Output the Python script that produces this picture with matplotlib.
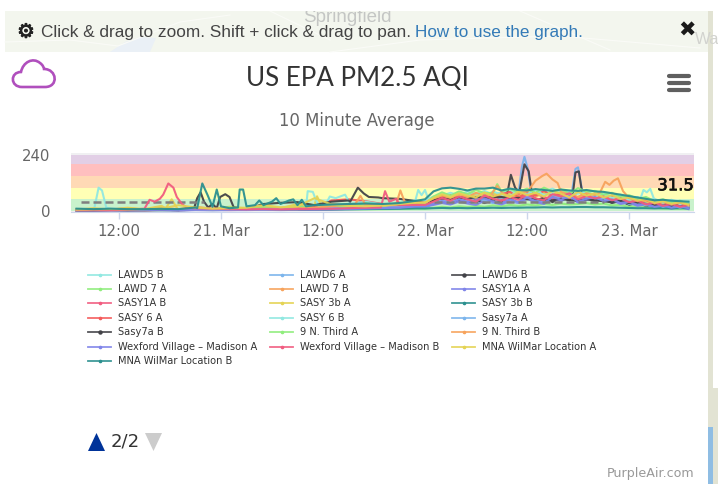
import numpy as np
import matplotlib
matplotlib.use("Agg")
import matplotlib.pyplot as plt
import matplotlib.patheffects as pe
from matplotlib.patches import Polygon, PathPatch, Rectangle
from matplotlib.path import Path

# ---------- data ----------
# hours after 20 Mar 12:00: two-hourly, then hourly
GRID_HOURS = list(range(-5, 36, 2)) + list(range(36, 68))

LAWD5_B  = [6,8,9,7,6,5,6,7,8,7, 6,8,9,8,12,14,15,22,25,28, 36,
            46,62,66,78,68,84,72,86,70,80, 88,74,92,76,84,96,78,86,74,82, 68,76,62,70,52,60,44,52,38,48, 34,40]
LAWD6_A  = [4,7,5,9,4,8,4,14,5,12, 7,16,7,20,8,18,10,26,13,22, 22,
            24,36,44,34,50,42,38,52,44,36, 58,46,64,52,42,60,72,50,66,48, 58,44,52,36,44,28,36,22,30,20, 26,18]
LAWD6_B  = [3,3,4,4,3,4,3,5,5,5, 6,5,6,7,7,8,9,11,12,14, 20,
            20,30,38,30,44,36,48,34,50,40, 30,52,62,44,58,38,60,46,30,54, 42,50,34,44,26,34,20,28,16,22, 14,18]
LAWD7_A  = [3,3,4,3,3,3,4,5,4,5, 5,6,5,6,6,7,7,8,8,9, 11,
            10,14,18,15,20,17,22,18,24,20, 26,22,28,24,30,26,32,28,30,34, 28,32,24,26,18,20,14,16,10,12, 9,11]
LAWD7_B  = [5,9,6,12,6,14,8,18,10,14, 8,20,10,24,12,30,24,38,20,30, 32,
            34,52,66,54,70,60,74,58,76,64, 56,72,82,62,76,68,88,70,60,78, 62,74,54,66,46,56,38,48,32,42, 28,36]
SASY1A_A = [2,2,3,2,3,3,2,4,3,4, 4,5,4,5,5,6,7,9,10,11, 17,
            18,26,34,28,40,32,26,44,36,28, 42,34,52,38,30,54,42,60,36,48, 56,40,46,30,36,22,28,14,20,10, 16,8]
SASY1A_B = [3,3,3,4,3,5,4,5,5,4, 5,6,5,6,7,8,9,12,14,16, 24,
            26,38,52,40,58,44,62,48,66,50, 44,68,56,74,60,50,72,58,46,70, 54,62,44,54,36,44,26,34,20,28, 16,24]
SASY3B_A = [6,12,6,14,8,22,8,16,9,18, 12,24,12,30,18,26,18,30,22,34, 30,
            32,48,64,50,68,56,72,62,78,58, 74,60,84,66,78,62,80,70,56,76, 60,70,52,62,44,52,36,44,28,38, 24,32]
SASY3B_B = [8,7,6,6,5,6,5,6,7,6, 6,7,6,6,7,7,8,8,9,10, 11,
            11,12,13,12,13,12,13,13,14,13, 14,14,15,15,16,15,16,16,17,17, 16,16,15,14,13,12,12,11,12,11, 12,12]
SASY6_A  = [4,5,5,4,5,6,5,7,7,6, 8,9,10,12,18,45,50,42,30,26, 32,
            30,46,58,68,54,70,50,76,60,72, 82,58,78,66,86,64,74,56,80,68, 74,54,66,48,56,40,48,30,38,26, 32,22]
SASY6_B  = [5,6,6,5,6,6,5,7,6,7, 6,7,8,8,14,62,64,40,28,30, 40,
            44,58,76,62,82,68,76,60,84,70, 64,86,72,90,68,80,88,66,76,84, 62,74,56,64,48,54,42,50,36,44, 30,38]
SASY7A_A = [4,5,5,4,4,5,4,6,5,6, 7,6,8,8,9,10,11,13,14,16, 23,
            22,34,46,36,54,40,60,46,34,58, 48,36,66,50,40,70,54,62,44,58, 46,54,38,48,30,38,24,32,18,26, 14,22]
SASY7A_B = [3,3,4,3,4,5,4,6,30,10, 8,30,35,38,25,40,45,60,55,52, 42,
            34,46,54,50,58,52,60,56,58,60, 54,56,50,52,48,46,52,46,44,50, 46,42,38,44,34,38,30,26,24,28, 20,26]
N9_A     = [4,8,5,6,6,10,6,12,6,16, 8,18,8,22,12,24,16,34,20,36, 28,
            30,62,80,66,84,72,90,76,88,70, 94,80,96,78,100,84,92,74,98,82, 86,70,78,60,68,52,60,42,50,36, 44,30]
N9_B     = [5,5,6,5,6,8,7,8,7,8, 9,10,10,12,14,20,30,26,24,28, 36,
            36,54,68,56,74,60,78,66,58,80, 62,76,84,64,78,58,82,70,60,76, 68,60,64,48,56,42,48,32,42,28, 36,24]
WEX_A    = [3,3,3,3,4,5,4,5,5,5, 5,6,6,7,7,8,9,10,12,14, 20,
            20,30,42,32,50,38,46,54,40,32, 50,38,58,42,34,60,48,64,40,52, 60,42,50,34,40,26,32,18,24,14, 20,12]
WEX_B    = [4,4,4,5,6,30,18,12,10,8, 7,8,7,8,9,10,12,14,40,30, 26,
            26,40,56,44,62,50,40,66,52,44, 60,48,70,54,46,72,62,76,50,64, 54,62,46,54,38,44,28,36,22,30, 18,26]
MNA_A    = [6,7,8,7,8,10,25,15,10,12, 14,25,16,20,55,28,22,20,24,30, 36,
            36,56,72,60,76,66,58,80,62,74, 60,84,68,78,62,86,74,58,82,66, 76,58,68,52,58,44,52,34,42,30, 38,26]
MNA_B    = [10,8,10,8,8,9,8,15,20,12, 18,30,28,35,25,28,30,32,30,34, 44,
            50,84,97,100,95,88,96,96,100,88, 96,90,88,94,90,86,92,88,86,90, 84,82,76,70,64,58,52,46,48,44, 42,40]

# short excursions: series -> list of (hours, values)
PEAKS = {
    "LAWD5 B": [([-2.9,-2.4,-2.0,-1.5],[12,100,88,15])],
    "LAWD6 A": [([47.0,47.4,47.7,48.1,48.5],[75,190,232,180,80]), ([53.3,53.7,54.0,54.5],[85,180,187,85])],
    "LAWD6 B": [([45.6,46.1,46.6,47.1,47.7,48.2,48.6],[60,155,100,80,200,170,70]), ([53.4,53.7,54.1,54.5],[75,165,170,75])],
    "SASY 3b A": [([23.0,23.3,23.8],[25,63,22]), ([5.5,6.2,6.8],[12,50,14])],
    "SASY 6 B": [([22.0,22.2,22.8,23.2,23.6],[14,85,82,45,15]), ([24.2,24.8,25.5,26.6,27.2],[20,62,55,70,30]),
                 ([34.8,35.2,35.6,36.0,36.4],[36,90,68,90,50]), ([61.3,61.7,62.1,62.5,63.0],[48,90,80,95,46])],
    "Sasy7a B": [([8.8,9.2,9.6,10.0,10.5],[8,55,80,40,15]), ([11.5,11.9,12.5,13.0,13.5],[12,60,72,60,15]),
                 ([27.2,28.1,28.8,29.4,30.5],[40,100,75,60,58])],
    "9 N. Third A": [([44.0,44.5,45.0],[78,115,84])],
    "9 N. Third B": [([32.6,33.1,33.7],[28,88,30]), ([27.8,28.4,29.0],[30,65,26]),
                     ([48.2,49.0,49.8,50.3,51.0,51.6],[90,130,150,160,135,120]),
                     ([56.6,57.2,57.7,58.2,58.7,59.3],[80,125,112,130,140,85]), ([43.8,44.5,45.1],[72,108,76])],
    "Wexford Village – Madison B": [([3.0,3.6,4.2,4.8,5.2,5.8,6.4,6.8,7.4,8.0],[10,48,40,52,70,118,100,60,30,14]),
                                    ([30.8,31.3,31.8,32.6,33.1],[15,85,40,52,25])],
    "MNA WilMar Location B": [([9.2,9.8,10.4,11.0,11.5,12.0],[12,118,70,18,92,20]),
                              ([14.0,14.2,14.6,15.0,16.0,16.5,17.0,18.0,18.5,19.0,20.0,20.5,21.0,21.5,22.0],
                               [15,92,92,20,25,45,25,40,55,30,45,50,25,48,20])],
}

SERIES_NAMES = ["LAWD5 B","LAWD6 A","LAWD6 B","LAWD 7 A","LAWD 7 B","SASY1A A","SASY1A B","SASY 3b A",
                "SASY 3b B","SASY 6 A","SASY 6 B","Sasy7a A","Sasy7a B","9 N. Third A","9 N. Third B",
                "Wexford Village – Madison A","Wexford Village – Madison B","MNA WilMar Location A",
                "MNA WilMar Location B"]
SERIES_VALUES = [LAWD5_B,LAWD6_A,LAWD6_B,LAWD7_A,LAWD7_B,SASY1A_A,SASY1A_B,SASY3B_A,SASY3B_B,SASY6_A,
                 SASY6_B,SASY7A_A,SASY7A_B,N9_A,N9_B,WEX_A,WEX_B,MNA_A,MNA_B]
COLORS = ["#91e8e1","#7cb5ec","#434348","#90ed7d","#f7a35c","#8085e9","#f15c80","#e4d354","#2b908f","#f45b5b",
          "#91e8e1","#7cb5ec","#434348","#90ed7d","#f7a35c","#8085e9","#f15c80","#e4d354","#2b908f"]

BAND_EDGES = [0, 50, 100, 150, 200, 240]
BAND_COLORS = ["#c9f2cc", "#ffffb5", "#ffd9b5", "#ffbfbf", "#e2cfe6"]
REF_HOURS = [-4.5, 10, np.nan, 37, 57]
REF_VALUES = [37, 37, np.nan, 37, 37]
TICK_HOURS = [0, 12, 24, 36, 48, 60]
TICK_LABELS = ["12:00", "21. Mar", "12:00", "22. Mar", "12:00", "23. Mar"]
LAST_VALUE = "31.5"

# ---------- figure ----------
W, H = 718, 484
fig = plt.figure(figsize=(W/100, H/100), dpi=100, facecolor="white")
sans = "DejaVu Sans"
arial = "Liberation Sans"

# overlay in pixel coordinates for page furniture
bg = fig.add_axes([0, 0, 1, 1], zorder=0)
bg.set_xlim(0, W); bg.set_ylim(H, 0); bg.axis("off")
bg.add_patch(Rectangle((5, 11), 703, 41, fc="#f3f6ee", ec="none"))
bg.add_patch(Polygon([(110,52),(125,42),(140,37),(156,38),(150,52)], fc="#eaf0f6", ec="none"))
for road in ([(5,42),(70,40),(118,46),(180,22),(230,15)], [(330,52),(420,40),(560,36),(700,48)],
             [(270,11),(330,40)], [(520,11),(610,50)]):
    bg.plot(*zip(*road), color="#fafbf7", lw=0.8)
bg.add_patch(Rectangle((708, 11), 5, H-11, fc="#e2e3d3", ec="none"))
bg.add_patch(Rectangle((713, 388), 5, H-388, fc="#e2e3d3", ec="none"))
bg.add_patch(Rectangle((708, 427), 5, H-427, fc="#8fbde3", ec="none"))
bg.text(347, 17, "Springfield", color="#c4c6c4", fontsize=13.5, family=arial, ha="center", va="center")
bg.add_patch(Rectangle((0, 0), W, 11, fc="white", ec="none", zorder=4))
bg.text(695, 39, "Wa", color="#d2d3cf", fontsize=12, family=arial, ha="left", va="center")
gear = bg.text(26, 32, "\u2699", color="#222222", fontsize=14, family=sans, ha="center", va="center")
gear.set_path_effects([pe.withStroke(linewidth=0.7, foreground="#222222")])
bg.text(41, 32, "Click & drag to zoom. Shift + click & drag to pan.", color="#444444", fontsize=12.4,
        family=arial, ha="left", va="center")
bg.text(415, 32, "How to use the graph.", color="#337ab7", fontsize=12.3, family=arial, ha="left", va="center")
bg.text(687, 31, "\u2716", color="#1a1a1a", fontsize=15, family=sans, ha="center", va="center")

bg.text(357, 78, "US EPA PM2.5 AQI", color="#333333", fontsize=18.7, family="Lato", ha="center", va="center")
bg.text(357, 121, "10 Minute Average", color="#666666", fontsize=11.9, family=sans, ha="center", va="center")

cloud = Path([(22,87),(10,87),(10,72),(21,72),(23,62),(33,57),(40,63),(43,65),(44,68),(44,69),
              (57,69),(59,87),(45,87),(22,87),(22,87)],
             [Path.MOVETO]+[Path.CURVE4]*12+[Path.LINETO,Path.CLOSEPOLY])
bg.add_patch(PathPatch(cloud, fc="none", ec="#b04fbd", lw=1.9))

for y in (76, 83, 90):
    bg.plot([669, 689], [y, y], color="#5f5f5f", lw=3.0, solid_capstyle="round")

bg.add_patch(Polygon([(88,451),(96.5,433),(105,451)], fc="#003399", ec="none"))
bg.text(125.5, 441, "2/2", color="#333333", fontsize=13, family=sans, ha="center", va="center")
bg.add_patch(Polygon([(145,433),(162,433),(153.5,451)], fc="#cccccc", ec="none"))
bg.text(694, 473, "PurpleAir.com", color="#999999", fontsize=9.1, family=sans, ha="right", va="center")

# legend, laid out like the reference (three fixed columns)
COL_X = [88, 270, 452]
for i, (name, col) in enumerate(zip(SERIES_NAMES, COLORS)):
    x0 = COL_X[i % 3]
    y0 = 274.5 + 14.45 * (i // 3)
    dark = col == "#434348"
    bg.plot([x0, x0 + 23], [y0, y0], color=col, lw=1.3, alpha=0.9)
    bg.plot([x0 + 11.5], [y0], "o", color=col, ms=2.2 if dark else 1.6)
    bg.text(x0 + 30.5, y0, name, color="#333333", fontsize=7.1, family=sans, ha="left", va="center")

# plot area
LEFT, RIGHT, TOP, BOTTOM = 71, 694, 153, 212
ax = fig.add_axes([LEFT/W, 1 - BOTTOM/H, (RIGHT-LEFT)/W, (BOTTOM-TOP)/H], zorder=1)
ax.set_facecolor("#f0f0f2")
ax.set_xlim((LEFT-119)/8.5, (RIGHT-119)/8.5)
ax.set_ylim(-4.3, 248.5)
for lo, hi, c in zip(BAND_EDGES[:-1], BAND_EDGES[1:], BAND_COLORS):
    ax.axhspan(lo, hi, color=c, lw=0, zorder=0)

grid = np.array(GRID_HOURS, dtype=float)
for idx, (name, vals, col) in enumerate(zip(SERIES_NAMES, SERIES_VALUES, COLORS)):
    h = grid.copy(); v = np.array(vals, dtype=float)
    for ph, pv in PEAKS.get(name, []):
        keep = (h < min(ph)) | (h > max(ph))
        h = np.concatenate([h[keep], ph]); v = np.concatenate([v[keep], pv])
    order = np.argsort(h)
    ax.plot(h[order], v[order], color=col, lw=1.5, alpha=0.95, zorder=2 + idx*0.01, solid_joinstyle="round")

ax.plot(REF_HOURS, REF_VALUES, color="#7f7f7f", lw=1.8, ls=(0, (3.2, 1.6)), zorder=2.15)

ax.set_xticks(TICK_HOURS); ax.set_xticklabels(TICK_LABELS)
ax.set_yticks([0, 240]); ax.set_yticklabels(["0", "240"])
ax.tick_params(axis="x", length=5.2, width=1, color="#ccd6eb", labelcolor="#666666", labelsize=10.7, pad=3.5)
ax.tick_params(axis="y", length=0, labelcolor="#666666", labelsize=10.7, pad=15)
for lab in ax.get_xticklabels() + ax.get_yticklabels():
    lab.set_family(sans)
for s in ax.spines.values():
    s.set_visible(False)
ax.spines["bottom"].set_visible(True); ax.spines["bottom"].set_color("#ccd6eb")

t = ax.text(67.6, 108, LAST_VALUE, color="#111111", fontsize=11.8, family=sans,
            ha="right", va="center", zorder=5)
t.set_path_effects([pe.withStroke(linewidth=0.5, foreground="#111111")])

fig.savefig("out.png", dpi=100)
